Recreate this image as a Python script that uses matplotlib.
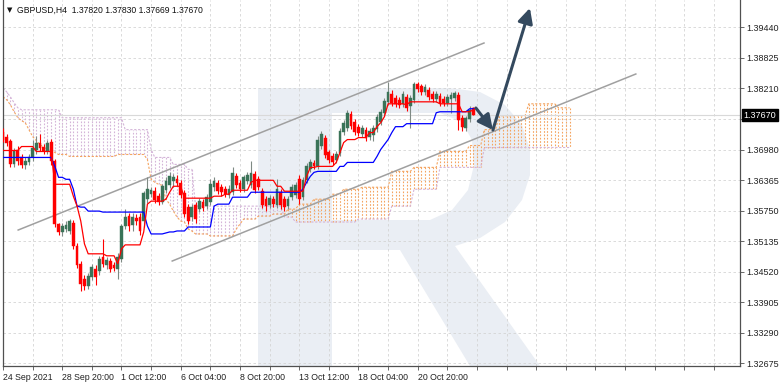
import numpy as np
import matplotlib
matplotlib.use("Agg")
import matplotlib.pyplot as plt
from matplotlib.patches import Polygon, Rectangle
from matplotlib.collections import LineCollection

plt.rcParams['font.family'] = ['Liberation Sans', 'DejaVu Sans']

# ---------------- data ----------------
opens = [1.3734,1.3724,1.3716,1.3668,1.3698,1.3682,1.3666,1.3672,1.3682,1.3698,
         1.3712,1.3704,1.3694,1.3714,1.3674,1.3548,1.3532,1.3538,1.3534,1.3550,
         1.3504,1.3468,1.3438,1.3424,1.3442,1.3458,1.3454,1.3482,1.3466,1.3474,
         1.3466,1.3458,1.3478,1.3544,1.3564,1.3546,1.3560,1.3562,1.3554,1.3598,
         1.3608,1.3614,1.3604,1.3592,1.3616,1.3626,1.3634,1.3638,1.3630,1.3610,
         1.3582,1.3562,1.3586,1.3578,1.3592,1.3584,1.3592,1.3622,1.3630,1.3622,
         1.3618,1.3606,1.3612,1.3644,1.3630,1.3618,1.3634,1.3626,1.3648,1.3638,
         1.3614,1.3598,1.3586,1.3598,1.3586,1.3612,1.3598,1.3584,1.3602,1.3606,
         1.3638,1.3602,1.3636,1.3658,1.3670,1.3664,1.3706,1.3722,1.3692,1.3684,
         1.3676,1.3690,1.3734,1.3742,1.3770,1.3754,1.3744,1.3730,1.3738,1.3724,
         1.3728,1.3740,1.3754,1.3772,1.3794,1.3810,1.3802,1.3798,1.3790,1.3804,
         1.3786,1.3798,1.3830,1.3826,1.3814,1.3818,1.3810,1.3800,1.3806,1.3800,
         1.3792,1.3800,1.3802,1.3808,1.3762,1.3742,1.3760,1.37820]
highs = [1.3742,1.3730,1.3720,1.3702,1.3706,1.3688,1.3682,1.3688,1.3718,1.3726,
         1.3730,1.3710,1.3718,1.3720,1.3678,1.3550,1.3550,1.3554,1.3558,1.3556,
         1.3510,1.3474,1.3446,1.3450,1.3468,1.3466,1.3484,1.3518,1.3482,1.3480,
         1.3472,1.3490,1.3548,1.3578,1.3570,1.3570,1.3568,1.3570,1.3614,1.3642,
         1.3622,1.3622,1.3610,1.3628,1.3642,1.3652,1.3648,1.3646,1.3636,1.3616,
         1.3588,1.3588,1.3592,1.3600,1.3598,1.3608,1.3638,1.3642,1.3636,1.3628,
         1.3624,1.3626,1.3662,1.3650,1.3636,1.3646,1.3652,1.3674,1.3654,1.3644,
         1.3620,1.3604,1.3606,1.3604,1.3638,1.3618,1.3604,1.3604,1.3628,1.3632,
         1.3646,1.3642,1.3670,1.3678,1.3676,1.3726,1.3736,1.3728,1.3698,1.3690,
         1.3694,1.3742,1.3758,1.3778,1.3776,1.3760,1.3750,1.3748,1.3744,1.3742,
         1.3748,1.3770,1.3780,1.3802,1.3834,1.3818,1.3808,1.3804,1.3816,1.3810,
         1.3808,1.3834,1.3834,1.3830,1.3830,1.3824,1.3816,1.3816,1.3812,1.3806,
         1.3810,1.3814,1.3816,1.3814,1.3768,1.3766,1.3786,1.37830]
lows = [1.3714,1.3706,1.3662,1.3662,1.3666,1.3660,1.3658,1.3666,1.3674,1.3688,
        1.3696,1.3688,1.3688,1.3666,1.3542,1.3526,1.3524,1.3532,1.3528,1.3498,
        1.3460,1.3414,1.3416,1.3418,1.3436,1.3426,1.3446,1.3462,1.3458,1.3452,
        1.3454,1.3438,1.3472,1.3538,1.3534,1.3534,1.3546,1.3526,1.3542,1.3590,
        1.3602,1.3590,1.3586,1.3588,1.3610,1.3620,1.3622,1.3624,1.3600,1.3562,
        1.3548,1.3554,1.3550,1.3572,1.3574,1.3578,1.3586,1.3614,1.3608,1.3604,
        1.3602,1.3600,1.3606,1.3620,1.3612,1.3612,1.3628,1.3620,1.3610,1.3616,
        1.3580,1.3574,1.3580,1.3582,1.3580,1.3578,1.3574,1.3578,1.3596,1.3600,
        1.3588,1.3596,1.3630,1.3652,1.3658,1.3658,1.3700,1.3680,1.3670,1.3666,
        1.3670,1.3684,1.3728,1.3736,1.3740,1.3728,1.3726,1.3724,1.3716,1.3718,
        1.3716,1.3734,1.3748,1.3766,1.3788,1.3786,1.3784,1.3782,1.3784,1.3776,
        1.3742,1.3792,1.3814,1.3808,1.3808,1.3798,1.3794,1.3794,1.3786,1.3786,
        1.3786,1.3772,1.3796,1.3738,1.3736,1.3736,1.3754,1.37669]
closes = [1.3718,1.3712,1.3668,1.3694,1.3674,1.3666,1.3674,1.3682,1.3702,1.3712,
          1.3702,1.3694,1.3712,1.3674,1.3548,1.3532,1.3544,1.3546,1.3554,1.3504,
          1.3466,1.3428,1.3424,1.3444,1.3462,1.3442,1.3478,1.3468,1.3476,1.3458,
          1.3460,1.3482,1.3544,1.3562,1.3544,1.3562,1.3554,1.3534,1.3610,1.3618,
          1.3616,1.3596,1.3592,1.3624,1.3634,1.3644,1.3642,1.3630,1.3606,1.3568,
          1.3554,1.3582,1.3558,1.3594,1.3580,1.3602,1.3628,1.3634,1.3614,1.3612,
          1.3608,1.3618,1.3650,1.3626,1.3618,1.3642,1.3646,1.3650,1.3616,1.3622,
          1.3586,1.3584,1.3600,1.3588,1.3618,1.3586,1.3582,1.3598,1.3622,1.3626,
          1.3598,1.3636,1.3664,1.3672,1.3664,1.3718,1.3730,1.3686,1.3676,1.3672,
          1.3688,1.3736,1.3752,1.3772,1.3746,1.3734,1.3732,1.3742,1.3722,1.3736,
          1.3742,1.3764,1.3774,1.3796,1.3814,1.3792,1.3790,1.3788,1.3810,1.3782,
          1.3802,1.3830,1.3820,1.3814,1.3824,1.3804,1.3800,1.3810,1.3792,1.3792,
          1.3804,1.3808,1.3812,1.3758,1.3744,1.3762,1.3778,1.37670]

# Ichimoku lines, stored as (level, number of bars at that level)
tenkan_levels = [1.3696,1.3704,1.3694,1.3628,1.3604,1.3584,1.3554,1.3508,1.3488,1.3484,
                 1.3468,1.3498,1.3506,1.3532,1.3588,1.3594,1.3598,1.3612,1.3624,1.3600,
                 1.3604,1.3608,1.3616,1.3632,1.3636,1.3624,1.3614,1.3644,1.3662,1.3664,
                 1.3672,1.3692,1.3712,1.3718,1.3722,1.3732,1.3744,1.3752,1.3764,1.3790,
                 1.3788,1.3794,1.3790,1.3774,1.3778]
tenkan_runs = [5,4,5,5,1,1,1,1,5,3,1,1,5,1,1,4,1,1,3,8,3,2,5,1,6,2,6,1,2,5,
               1,1,1,3,3,2,1,1,1,5,1,8,6,3,1]
kijun_levels = [1.3682,1.3664,1.3642,1.3638,1.3618,1.3584,1.3582,1.3574,1.3572,1.3544,
                1.3528,1.3530,1.3532,1.3534,1.3542,1.3584,1.3588,1.3602,1.3612,1.3618,
                1.3632,1.3644,1.3652,1.3654,1.3664,1.3672,1.3684,1.3698,1.3708,1.3718,
                1.3732,1.3744,1.3750,1.3772,1.3774,1.3780]
kijun_runs = [14,1,2,2,1,1,2,4,12,1,4,1,2,3,7,1,4,5,14,1,1,1,1,6,2,8,1,1,1,1,1,3,8,1,8,2]
span_a_levels = [1.3804,1.3798,1.3788,1.3774,1.3762,1.3756,1.3752,1.3738,1.3724,1.3716,
                 1.3708,1.3702,1.3698,1.3692,1.3688,1.3684,1.3688,1.3678,1.3638,1.3632,
                 1.3628,1.3626,1.3598,1.3588,1.3574,1.3562,1.3554,1.3552,1.3538,1.3534,
                 1.3528,1.3524,1.3538,1.3548,1.3558,1.3564,1.3568,1.3578,1.3588,1.3598,
                 1.3608,1.3618,1.3622,1.3654,1.3662,1.3694,1.3706,1.3738,1.3766,1.3790,
                 1.3782]
span_a_runs = [1,1,1,1,1,1,1,1,1,1,1,1,2,1,3,13,8,1,1,1,1,1,1,1,1,1,1,1,1,1,
               4,7,1,1,4,4,4,3,4,5,3,5,8,6,7,8,4,4,8,8,4]
span_b_levels = [1.3822,1.3814,1.3804,1.3792,1.3782,1.3778,1.3762,1.3738,1.3698,1.3682,
                 1.3668,1.3658,1.3584,1.3562,1.3552,1.3558,1.3584,1.3618,1.3662,1.3702]
span_b_runs = [1,1,1,1,1,11,17,7,1,5,4,2,24,3,17,9,6,7,12,24]

x_tick_labels = ["24 Sep 2021", "28 Sep 20:00", "1 Oct 12:00", "6 Oct 04:00",
                 "8 Oct 20:00", "13 Oct 12:00", "18 Oct 04:00", "20 Oct 20:00"]
y_ticks = [1.39440, 1.38825, 1.38210, 1.37595, 1.36980, 1.36365, 1.35750,
           1.35135, 1.34520, 1.33905, 1.33290, 1.32675]
last_price = 1.37670
symbol_text = "GBPUSD,H4  1.37820 1.37830 1.37669 1.37670"

# channel drawings: (bar, price) anchors
upper_channel = [(4.1, 1.35359), (129.9, 1.39124)]
lower_channel = [(45.7, 1.34735), (170.9, 1.38500)]
arrow_down = [(127.7, 1.37816), (132.3, 1.37373)]
arrow_up = [(132.3, 1.37373), (142.3, 1.39829)]

# ---------------- figure ----------------
W, H = 782, 385
fig = plt.figure(figsize=(W / 100, H / 100), dpi=100)
fig.patch.set_facecolor('white')
ax = fig.add_axes([3 / W, 19 / H, 736.5 / W, 366 / H])
ax.set_zorder(2)
ax.patch.set_alpha(0)
ax.set_xlim(0.08, 198.9)
ax.set_ylim(1.3999 - 366 / 4967, 1.3999)

# watermark (figure pixel polygon, decorative, behind the chart)
def px(pts):
    return [(x / W, 1 - y / H) for x, y in pts]

wm_color = '#eaeef4'
outer = [(258, 88), (450, 88), (480, 92), (505, 105), (522, 125), (530, 150),
         (530, 175), (522, 200), (505, 222), (480, 238), (455, 246),
         (540, 366), (470, 366), (400, 250), (332, 250), (332, 366), (258, 366)]
fig.patches.append(Polygon(px(outer), closed=True, transform=fig.transFigure,
                           facecolor=wm_color, edgecolor='none', zorder=0))
hole = [(332, 113), (440, 113), (462, 122), (472, 140), (474, 165), (468, 190),
        (452, 210), (430, 220), (332, 220)]
fig.patches.append(Polygon(px(hole), closed=True, transform=fig.transFigure,
                           facecolor='white', edgecolor='none', zorder=0))

# grid
for xg in range(0, 200, 8):
    ax.axvline(xg, color='#d4d4d4', lw=0.6, ls=(0, (3, 3)), zorder=1)
for yv in y_ticks:
    ax.axhline(yv, color='#d4d4d4', lw=0.6, ls=(0, (3, 3)), zorder=1)

# Ichimoku cloud
span_a = np.repeat(span_a_levels, span_a_runs)
span_b = np.repeat(span_b_levels, span_b_runs)
xc = np.arange(len(span_a))
segs_o, segs_p = [], []
for i in range(len(xc)):
    seg = [(xc[i], span_a[i]), (xc[i], span_b[i])]
    (segs_o if span_a[i] >= span_b[i] else segs_p).append(seg)
ax.add_collection(LineCollection(segs_o, colors='#f4a460', lw=0.8,
                                 linestyles=[(0, (1.5, 1.5))], zorder=2))
ax.add_collection(LineCollection(segs_p, colors='#d4b4d8', lw=0.8,
                                 linestyles=[(0, (1.5, 1.5))], zorder=2))
ax.plot(xc, span_a, color='#f4a460', lw=0.8, ls=(0, (2, 1.5)), zorder=2)
ax.plot(xc, span_b, color='#d4b4d8', lw=0.8, ls=(0, (2, 1.5)), zorder=2)

# current price line
ax.axhline(last_price, color='#d9d9d9', lw=0.8, zorder=2)

# channel lines
for ch in (upper_channel, lower_channel):
    ax.plot([ch[0][0], ch[1][0]], [ch[0][1], ch[1][1]], color='#a0a0a0', lw=1.1, zorder=3)

# candles
n = len(closes)
xb = np.arange(n)
for i in range(n):
    o, h, l, c = opens[i], highs[i], lows[i], closes[i]
    bull = c >= o
    wick_col = '#7f8a84' if bull else '#ff0000'
    body_col = '#3a7358' if bull else '#ff0000'
    ax.plot([xb[i], xb[i]], [l, h], color=wick_col, lw=0.8, zorder=4,
            solid_capstyle='butt')
    lo, hi = min(o, c), max(o, c)
    ax.add_patch(Rectangle((xb[i] - 0.37, lo), 0.74, max(hi - lo, 0.00004),
                           facecolor=body_col, edgecolor=body_col, lw=0.3, zorder=5))

tenkan = np.repeat(tenkan_levels, tenkan_runs)
kijun = np.repeat(kijun_levels, kijun_runs)
ax.plot(xb, kijun, color='#0000ff', lw=0.9, zorder=6)
ax.plot(xb, tenkan, color='#ff0000', lw=0.9, zorder=6)

# arrows
for a in (arrow_down, arrow_up):
    ax.annotate('', xy=a[1], xytext=a[0],
                arrowprops=dict(arrowstyle='-|>,head_length=0.9,head_width=0.45',
                                color='#34495e', lw=2.2, shrinkA=0, shrinkB=0),
                zorder=7)

# axes styling
ax.spines['top'].set_visible(False)
for s in ('left', 'bottom', 'right'):
    ax.spines[s].set_color('#505050')
    ax.spines[s].set_linewidth(0.9)
ax.yaxis.tick_right()
ax.set_yticks(y_ticks)
ax.set_yticklabels([f"{v:.5f}" for v in y_ticks])
ax.set_xticks(np.arange(0, 16 * len(x_tick_labels), 16))
ax.set_xticklabels(x_tick_labels, ha='left')
ax.set_xticks(np.arange(0, 200, 8), minor=True)
ax.tick_params(axis='y', which='both', direction='out', length=3, width=0.6,
               colors='#505050', labelcolor='#222222', labelsize=6.5, pad=2)
ax.tick_params(axis='x', which='both', direction='out', length=3, width=0.6,
               colors='#505050', labelcolor='#222222', labelsize=6.3, pad=2)

# current price box (covers the tick label beneath it, as in the terminal)
ax.annotate(f"{last_price:.5f}", xy=(1.0, last_price), xycoords=('axes fraction', 'data'),
            xytext=(3, 0), textcoords='offset points', va='center', ha='left',
            fontsize=6.5, color='white', zorder=10, annotation_clip=False,
            bbox=dict(boxstyle='square,pad=0.15', fc='black', ec='black'))

# header text
fig.text(7 / W, 1 - 10 / H, '\u25bc', fontsize=5, va='center', ha='left',
         family=['DejaVu Sans'], color='#111111')
fig.text(17 / W, 1 - 10 / H, symbol_text, fontsize=6.2, va='center', ha='left',
         color='#111111')

fig.savefig('out.png', dpi=100)
